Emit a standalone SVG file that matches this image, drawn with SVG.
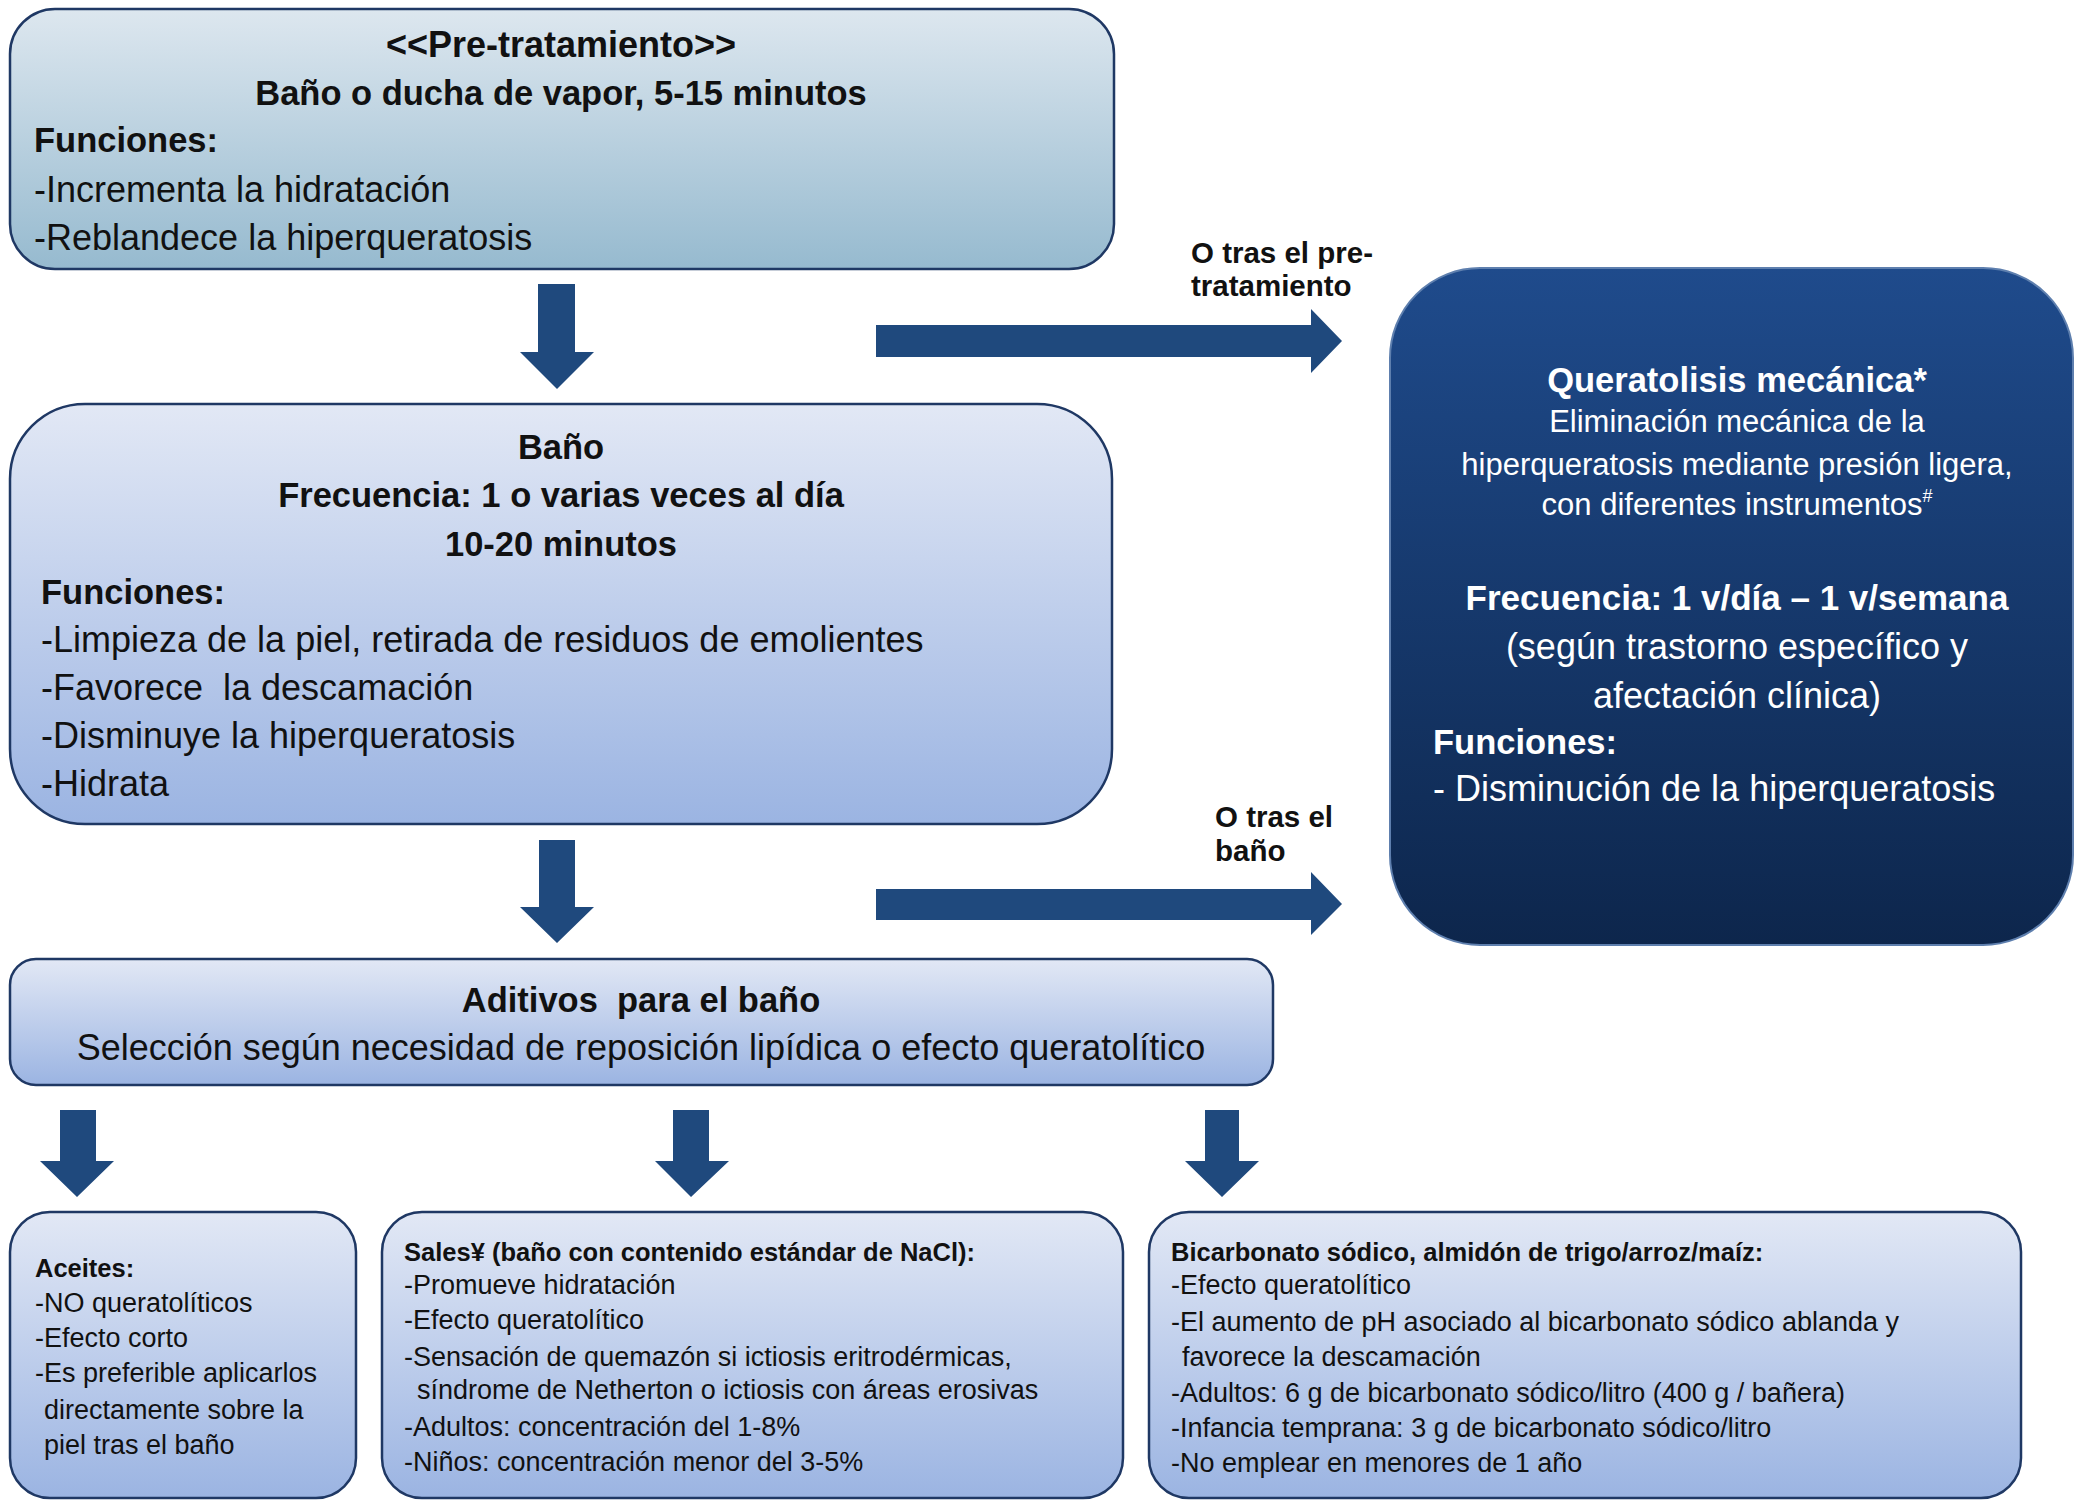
<svg xmlns="http://www.w3.org/2000/svg" width="2083" height="1509" viewBox="0 0 2083 1509">
<defs>
<linearGradient id="gTeal" x1="0" y1="0" x2="0" y2="1">
<stop offset="0" stop-color="#DDE7EF"/><stop offset="1" stop-color="#96BACF"/>
</linearGradient>
<linearGradient id="gBlue" x1="0" y1="0" x2="0" y2="1">
<stop offset="0" stop-color="#E2E8F5"/><stop offset="1" stop-color="#9BB4E2"/>
</linearGradient>
<linearGradient id="gDark" x1="0" y1="0" x2="0" y2="1">
<stop offset="0" stop-color="#1F4B8C"/><stop offset="1" stop-color="#0D264C"/>
</linearGradient>
<style>
text{font-family:"Liberation Sans",Arial,sans-serif;fill:#111}
.box{stroke:#1F3864;stroke-width:2.5}
.big{font-size:36px}
.bb{font-size:34.5px;font-weight:bold}
.c{text-anchor:middle}
.sm{font-size:27px}
.smb{font-size:25.5px;font-weight:bold}
.lab{font-size:29.5px;font-weight:bold}
.w{fill:#fff}
.arr{fill:#1F497D}
.pre{white-space:pre}
</style>
</defs>

<g id="pretratamiento">
<rect class="box" x="10" y="9" width="1104" height="260" rx="45" fill="url(#gTeal)"/>
<text class="c" x="561" y="57" font-size="36" font-weight="bold" fill="#1a1a1a">&lt;&lt;Pre-tratamiento&gt;&gt;</text>
<text class="bb c" x="561" y="105">Baño o ducha de vapor, 5-15 minutos</text>
<text class="bb" x="34" y="152">Funciones:</text>
<text class="big" x="34" y="202">-Incrementa la hidratación</text>
<text class="big" x="34" y="250">-Reblandece la hiperqueratosis</text>
</g>

<g id="bano">
<rect class="box" x="10" y="404" width="1102" height="420" rx="75" fill="url(#gBlue)"/>
<text class="bb c" x="561" y="459">Baño</text>
<text class="bb c" x="561" y="507">Frecuencia: 1 o varias veces al día</text>
<text class="bb c" x="561" y="556">10-20 minutos</text>
<text class="bb" x="41" y="604">Funciones:</text>
<text class="big" x="41" y="652">-Limpieza de la piel, retirada de residuos de emolientes</text>
<text class="big pre" x="41" y="700">-Favorece  la descamación</text>
<text class="big" x="41" y="748">-Disminuye la hiperqueratosis</text>
<text class="big" x="41" y="796">-Hidrata</text>
</g>

<g id="queratolisis">
<rect x="1390" y="268" width="683" height="677" rx="90" fill="url(#gDark)" stroke="#5E7FAE" stroke-width="2"/>
<text class="bb c w" x="1737" y="392">Queratolisis mecánica*</text>
<text class="c w" x="1737" y="432" font-size="31">Eliminación mecánica de la</text>
<text class="c w" x="1737" y="475" font-size="31">hiperqueratosis mediante presión ligera,</text>
<text class="c w" x="1737" y="515" font-size="31">con diferentes instrumentos<tspan font-size="18" dy="-13">#</tspan></text>
<text class="c w" x="1737" y="610" font-size="35" font-weight="bold">Frecuencia: 1 v/día – 1 v/semana</text>
<text class="big c w" x="1737" y="659">(según trastorno específico y</text>
<text class="big c w" x="1737" y="708">afectación clínica)</text>
<text class="bb w" x="1433" y="754">Funciones:</text>
<text class="big w" x="1433" y="801">- Disminución de la hiperqueratosis</text>
</g>

<g id="aditivos">
<rect class="box" x="10" y="959" width="1263" height="126" rx="26" fill="url(#gBlue)"/>
<text class="bb c pre" x="641" y="1012">Aditivos  para el baño</text>
<text class="big c" x="641" y="1060">Selección según necesidad de reposición lipídica o efecto queratolítico</text>
</g>

<g id="aceites">
<rect class="box" x="10" y="1212" width="346" height="286" rx="40" fill="url(#gBlue)"/>
<text class="smb" x="35" y="1277">Aceites:</text>
<text class="sm" x="35" y="1312">-NO queratolíticos</text>
<text class="sm" x="35" y="1347">-Efecto corto</text>
<text class="sm" x="35" y="1382">-Es preferible aplicarlos</text>
<text class="sm" x="44" y="1419">directamente sobre la</text>
<text class="sm" x="44" y="1454">piel tras el baño</text>
</g>

<g id="sales">
<rect class="box" x="382" y="1212" width="741" height="286" rx="40" fill="url(#gBlue)"/>
<text class="smb" x="404" y="1261">Sales¥ (baño con contenido estándar de NaCl):</text>
<text class="sm" x="404" y="1294">-Promueve hidratación</text>
<text class="sm" x="404" y="1329">-Efecto queratolítico</text>
<text class="sm" x="404" y="1366">-Sensación de quemazón si ictiosis eritrodérmicas,</text>
<text class="sm" x="417" y="1399">síndrome de Netherton o ictiosis con áreas erosivas</text>
<text class="sm" x="404" y="1436">-Adultos: concentración del 1-8%</text>
<text class="sm" x="404" y="1471">-Niños: concentración menor del 3-5%</text>
</g>

<g id="bicarbonato">
<rect class="box" x="1149" y="1212" width="872" height="286" rx="40" fill="url(#gBlue)"/>
<text class="smb" x="1171" y="1261">Bicarbonato sódico, almidón de trigo/arroz/maíz:</text>
<text class="sm" x="1171" y="1294">-Efecto queratolítico</text>
<text class="sm" x="1171" y="1331">-El aumento de pH asociado al bicarbonato sódico ablanda y</text>
<text class="sm" x="1182" y="1366">favorece la descamación</text>
<text class="sm" x="1171" y="1402">-Adultos: 6 g de bicarbonato sódico/litro (400 g / bañera)</text>
<text class="sm" x="1171" y="1437">-Infancia temprana: 3 g de bicarbonato sódico/litro</text>
<text class="sm" x="1171" y="1472">-No emplear en menores de 1 año</text>
</g>

<g id="connectors">
<polygon class="arr" points="538,284 575,284 575,352 594,352 557,389 520,352 538,352"/>
<polygon class="arr" points="539,840 575,840 575,907 594,907 557,943 520,907 539,907"/>
<polygon class="arr" points="876,325 1311,325 1311,309 1342,341 1311,373 1311,357 876,357"/>
<polygon class="arr" points="876,889 1311,889 1311,872 1342,904 1311,935 1311,920 876,920"/>
<polygon class="arr" points="60,1110 96,1110 96,1161 114,1161 77,1197 40,1161 60,1161"/>
<polygon class="arr" points="673,1110 709,1110 709,1161 729,1161 691,1197 655,1161 673,1161"/>
<polygon class="arr" points="1205,1110 1239,1110 1239,1161 1259,1161 1222,1197 1185,1161 1205,1161"/>
<text class="lab" x="1191" y="263">O tras el pre-</text>
<text class="lab" x="1191" y="296">tratamiento</text>
<text class="lab" x="1215" y="827">O tras el</text>
<text class="lab" x="1215" y="861">baño</text>
</g>
</svg>
